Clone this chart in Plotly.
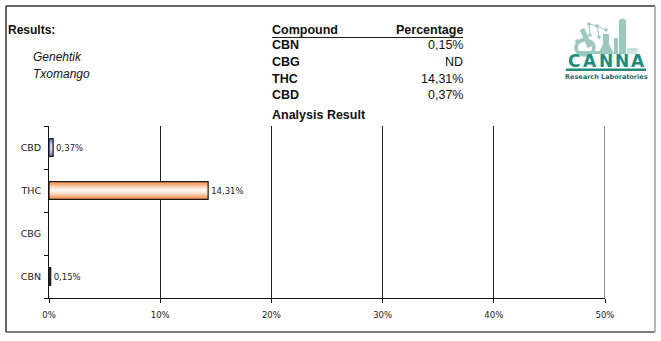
import plotly.graph_objects as go

# ---------------- data ----------------
compounds = ["CBN", "CBG", "THC", "CBD"]
values = [0.15, None, 14.31, 0.37]          # CBG = ND (not detected)
table_values = ["0,15%", "ND", "14,31%", "0,37%"]
bar_labels = ["0,15%", "", "14,31%", "0,37%"]
x_ticks = [0, 10, 20, 30, 40, 50]
x_tick_labels = ["0%", "10%", "20%", "30%", "40%", "50%"]
sample_name = ["Genehtik", "Txomango"]

# per-bar colour bands (edge -> centre) to imitate the gradient fill
bar_bands = {
    "CBN": ["#222222", "#333333", "#444444"],
    "CBG": ["#ffffff", "#ffffff", "#ffffff"],
    "THC": ["#f2955a", "#f6aa78", "#fac4a0", "#fddcc8", "#fff2ea"],
    "CBD": ["#6b7dd6", "#899ae0", "#a9b4ea", "#c9d0f2"],
}

# ---------------- geometry helpers ----------------
W_FIG, H_FIG = 661, 341
L, R, T, B = 49, 605, 126, 298
PW, PH = R - L, B - T


def px(x):
    return (x - L) / PW


def py(y):
    return (B - y) / PH


FONT = "Liberation Sans, Arial, sans-serif"
TICKFONT = "DejaVu Sans, Verdana, sans-serif"
fig = go.Figure()

BAR_W = 0.41
max_bands = 5
for band in range(max_bands):
    w = BAR_W * (1 - band / max_bands * 0.95)
    cols = []
    for c in compounds:
        b = bar_bands[c]
        cols.append(b[min(band, len(b) - 1)])
    fig.add_trace(go.Bar(
        y=compounds, x=values, orientation="h", width=w,
        marker=dict(color=cols, line=dict(width=0)),
        hoverinfo="skip", showlegend=False,
    ))

# outline + labels
fig.add_trace(go.Bar(
    y=compounds, x=values, orientation="h", width=BAR_W,
    marker=dict(color="rgba(0,0,0,0)", line=dict(color="#1a1a1a", width=1.2)),
    text=bar_labels, textposition="outside", cliponaxis=False,
    textfont=dict(family=TICKFONT, size=8.5, color="#222"),
    showlegend=False,
))

fig.update_layout(
    width=W_FIG, height=H_FIG,
    margin=dict(l=L, r=W_FIG - R, t=T, b=H_FIG - B, pad=0),
    paper_bgcolor="white", plot_bgcolor="white",
    barmode="overlay", bargap=0.6,
    font=dict(family=FONT, color="#111"),
    xaxis=dict(
        range=[0, 50], tickvals=x_ticks, ticktext=x_tick_labels,
        showgrid=True, gridcolor="#222", gridwidth=1,
        showline=True, linecolor="#111", linewidth=1,
        ticks="outside", ticklen=4, tickcolor="#111", ticklabelstandoff=5,
        tickfont=dict(family=TICKFONT, size=8.5, color="#222"),
        zeroline=False, fixedrange=True,
    ),
    yaxis=dict(
        categoryorder="array", categoryarray=compounds,
        showline=True, linecolor="#111", linewidth=1,
        ticks="outside", ticklen=4, tickcolor="#111", tickson="boundaries",
        ticklabelstandoff=5,
        tickfont=dict(family=TICKFONT, size=9.5, color="#222"),
        showgrid=False, zeroline=False, fixedrange=True,
    ),
)

shapes = []
ann = []

# frame
shapes.append(dict(type="line", xref="paper", yref="paper", x0=px(6), x1=px(655), y0=py(6), y1=py(6),
                   line=dict(color="#333", width=1.5)))
shapes.append(dict(type="line", xref="paper", yref="paper", x0=px(6), x1=px(6), y0=py(6), y1=py(332),
                   line=dict(color="#333", width=1.5)))
shapes.append(dict(type="line", xref="paper", yref="paper", x0=px(6), x1=px(655), y0=py(332), y1=py(332),
                   line=dict(color="#555", width=1.5)))
shapes.append(dict(type="line", xref="paper", yref="paper", x0=px(655), x1=px(655), y0=py(6), y1=py(332),
                   line=dict(color="#b5b5b5", width=2)))
# gridline at 50%
shapes.append(dict(type="line", xref="x", yref="paper", x0=50, x1=50, y0=0, y1=1,
                   line=dict(color="#222", width=1)))


def text(x, y, s, size=12, bold=False, italic=False, anchor="left", color="#111", family=FONT):
    off = {"left": -2, "right": 2, "center": 0}[anchor]
    ann.append(dict(
        xref="paper", yref="paper", x=px(x + off), y=py(y), text=s, showarrow=False,
        xanchor=anchor, yanchor="middle",
        font=dict(family=family, size=size, color=color,
                  weight="bold" if bold else "normal",
                  style="italic" if italic else "normal"),
    ))


text(8, 30, "Results:", bold=True)
text(33, 57, sample_name[0], italic=True)
text(33, 74, sample_name[1], italic=True)

# table
text(272, 30, "Compound", size=12.5, bold=True)
text(463, 30, "Percentage", size=12.5, bold=True, anchor="right")
shapes.append(dict(type="line", xref="paper", yref="paper", x0=px(272), x1=px(463), y0=py(37.5), y1=py(37.5),
                   line=dict(color="#222", width=1)))
row_y = [45, 62, 79, 95]
for c, v, yy in zip(compounds, table_values, row_y):
    text(272, yy, c, size=12.5, bold=True)
    text(463, yy, v, size=12.5, anchor="right")
text(272, 115, "Analysis Result", size=12.5, bold=True)

# ---------------- logo ----------------
LT = "#9cc8c0"
DK = "#238a7b"


def rect(x0, y0, x1, y1, color=LT):
    shapes.append(dict(type="rect", xref="paper", yref="paper", x0=px(x0), x1=px(x1), y0=py(y0), y1=py(y1),
                       fillcolor=color, line=dict(width=0), layer="above"))


def line(x0, y0, x1, y1, color=LT, w=1.5):
    shapes.append(dict(type="line", xref="paper", yref="paper", x0=px(x0), x1=px(x1), y0=py(y0), y1=py(y1),
                       line=dict(color=color, width=w)))


def dot(x, y, r=1.5, color=LT):
    shapes.append(dict(type="circle", xref="paper", yref="paper", x0=px(x - r), x1=px(x + r), y0=py(y - r),
                       y1=py(y + r), fillcolor=color, line=dict(width=0)))


# tall tube
rect(619, 22, 626, 54)
dot(622.5, 22, 3.5)
# flask
rect(603, 34, 609, 45)
shapes.append(dict(type="path", xref="paper", yref="paper",
                   path=f"M {px(603)},{py(44)} L {px(598)},{py(54)} L {px(614)},{py(54)} L {px(609)},{py(44)} Z",
                   fillcolor=LT, line=dict(width=0)))
# small tube
rect(614, 38, 618, 54)
# rack
for xx in range(628, 638, 2):
    line(xx, 49, xx, 54, LT, 1)
line(627, 49, 638, 49, LT, 1)
# microscope
line(582, 29, 590, 47, LT, 5)
shapes.append(dict(type="circle", xref="paper", yref="paper", x0=px(576), x1=px(594), y0=py(40), y1=py(55),
                   fillcolor="rgba(0,0,0,0)", line=dict(color=LT, width=3.5)))
rect(577, 51, 599, 54)
# molecule
pts = [(589, 24), (597, 26), (606, 30), (590, 35), (577, 41), (599, 37)]
for (a, b) in [(0, 1), (1, 2), (0, 3), (3, 4), (1, 5)]:
    line(pts[a][0], pts[a][1], pts[b][0], pts[b][1], LT, 1)
for p_ in pts:
    dot(p_[0], p_[1], 1.8)

# CANNA letters
for i, ch in enumerate("CANNA"):
    ann.append(dict(xref="paper", yref="paper", x=px(574 + i * 16), y=py(61), text=ch, showarrow=False,
                    xanchor="center", yanchor="middle",
                    font=dict(family="DejaVu Sans, sans-serif", size=17, color=DK, weight="bold")))
rect(566, 68.5, 646, 71, DK)
ann.append(dict(xref="paper", yref="paper", x=px(606), y=py(77), text="Research Laboratories", showarrow=False,
                xanchor="center", yanchor="middle",
                font=dict(family="DejaVu Sans, sans-serif", size=6.5, color="#1f6b62", weight="bold")))

fig.update_layout(shapes=shapes, annotations=ann)
fig.write_html("out.html")
